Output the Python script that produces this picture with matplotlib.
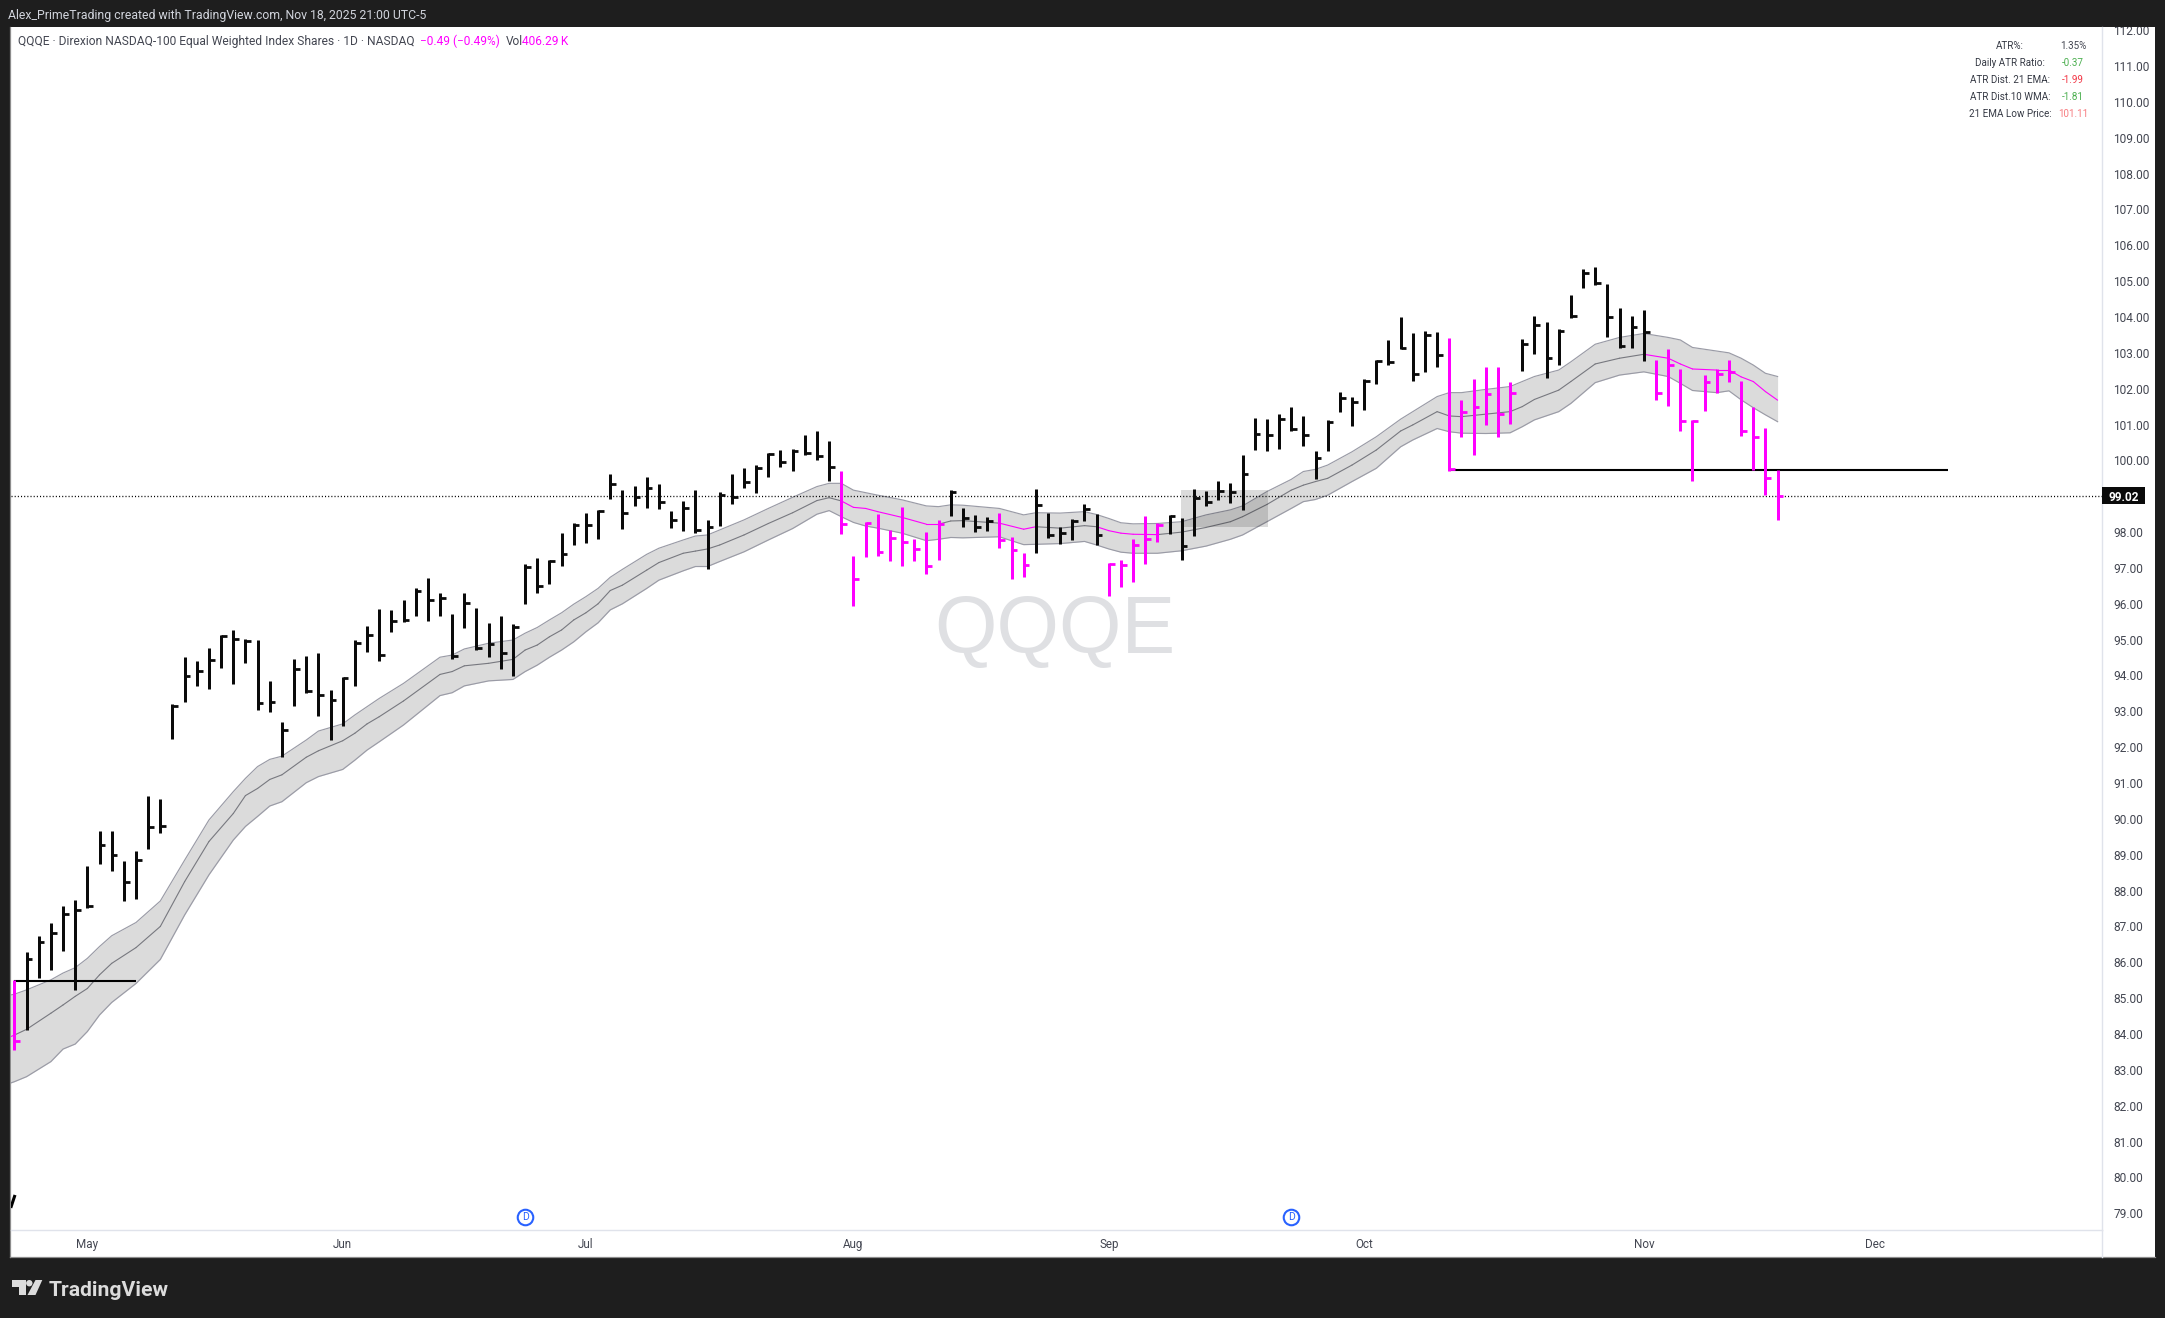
import matplotlib
matplotlib.use("Agg")
import matplotlib.pyplot as plt
from matplotlib.collections import LineCollection
from matplotlib.patches import Rectangle, Polygon, Circle
from matplotlib.transforms import Affine2D, blended_transform_factory

W, H = 2165, 1318

highs = [85.51,86.29,86.73,87.10,87.57,87.74,88.69,89.67,89.67,88.83,
         89.11,90.64,90.55,93.20,94.52,94.41,94.77,95.13,95.27,95.02,
         94.99,93.85,92.70,94.46,94.54,94.63,93.60,93.96,94.99,95.38,
         95.86,95.83,96.11,96.44,96.72,96.30,95.71,96.30,95.88,95.46,
         95.66,95.44,97.11,97.28,97.22,97.98,98.25,98.53,98.62,99.62,
         99.17,99.29,99.54,99.34,98.59,98.87,99.17,98.34,99.12,99.62,
         99.79,99.87,100.21,100.29,100.32,100.71,100.82,100.54,99.70,97.33,
         98.28,98.50,98.06,98.70,97.81,98.00,98.34,99.17,98.67,98.48,
         98.42,98.53,97.86,97.42,99.20,98.53,98.14,98.37,98.78,98.50,
         97.14,97.22,97.81,98.45,98.25,98.48,98.39,99.20,99.15,99.42,
         99.37,100.15,101.18,101.15,101.30,101.49,101.24,100.26,101.13,101.91,
         101.77,102.27,102.80,103.36,104.00,103.55,103.61,103.58,103.41,101.69,
         102.27,102.60,102.60,102.19,103.39,104.03,103.86,103.66,104.61,105.34,
         105.39,104.92,104.25,104.03,104.20,102.80,103.11,102.55,101.13,102.38,
         102.55,102.80,102.22,101.49,100.90,99.73]
lows = [83.55,84.11,85.56,85.79,86.31,85.23,87.51,88.74,88.55,87.71,
        87.77,89.16,89.60,92.23,93.26,93.71,93.62,94.21,93.76,94.35,
        93.04,92.98,91.73,93.15,93.51,92.87,92.20,92.59,93.71,94.66,
        94.40,95.21,95.49,95.66,95.52,95.66,94.46,95.32,94.71,94.52,
        94.18,93.99,95.99,96.30,96.55,97.05,97.64,97.70,97.81,98.92,
        98.09,98.73,98.67,98.64,98.11,98.03,97.97,96.97,98.17,98.78,
        99.23,99.09,99.54,99.82,99.70,100.15,100.01,99.43,97.95,95.94,
        97.31,97.33,97.19,97.05,97.19,96.83,97.22,98.45,98.14,98.00,
        98.03,97.56,96.69,96.75,97.42,97.84,97.67,97.78,98.31,97.64,
        96.22,96.47,96.61,97.11,97.72,97.95,97.22,97.89,98.73,98.90,
        98.81,98.62,100.29,100.26,100.32,100.82,100.40,99.48,100.26,101.35,
        100.96,101.41,102.13,102.66,103.11,102.22,102.47,102.60,99.71,100.65,
        100.15,100.99,100.65,101.02,102.49,102.97,102.30,102.66,103.97,104.81,
        104.89,103.44,103.14,103.14,102.77,101.69,101.52,100.82,99.43,101.38,
        101.88,102.19,100.68,99.73,99.03,98.34]
closes = [83.80,86.09,86.57,86.82,87.34,87.45,87.58,89.26,89.00,88.23,
          88.84,89.77,89.79,93.15,94.00,94.12,94.42,95.10,95.03,94.95,
          93.22,93.26,92.48,94.17,93.58,93.45,93.32,93.92,94.92,95.13,
          94.57,95.52,95.55,96.36,96.11,96.16,94.54,96.02,94.77,94.88,
          94.63,95.35,97.03,96.50,97.19,97.38,98.20,98.20,98.59,99.34,
          98.52,98.98,99.23,98.84,98.34,98.67,98.06,98.14,99.03,98.98,
          99.40,99.79,100.18,99.96,100.26,100.21,100.12,99.81,98.22,96.68,
          98.25,97.45,97.84,97.72,97.53,97.05,98.23,99.12,98.39,98.14,
          98.31,97.78,97.50,97.08,98.76,97.91,97.98,98.31,98.64,97.91,
          97.11,97.08,97.64,97.81,98.20,98.45,97.61,98.95,98.84,99.15,
          99.12,99.62,100.74,100.71,101.16,100.88,100.71,100.07,101.07,101.74,
          101.63,102.21,102.77,102.75,103.14,102.41,103.50,102.94,99.76,101.35,
          101.49,101.85,101.30,101.88,103.25,103.78,102.86,103.61,104.03,105.23,
          104.95,104.00,103.19,103.72,103.58,101.88,102.66,101.10,101.10,102.19,
          102.41,102.47,100.82,100.65,99.51,99.02]
magenta_runs = [(0, 0), (68, 76), (81, 83), (90, 94), (118, 123), (135, 145)]

band_idx = [-1,0,1,3,4,5,6,7,8,10,12,14,16,18,19,20,21,22,24,25,27,28,29,30,32,35,36,37,39,41,
            42,43,44,45,46,47,48,49,50,52,53,55,56,57,58,60,62,64,66,67,68,69,70,71,73,75,76,77,
            78,81,83,84,86,88,89,90,91,92,94,96,98,100,101,103,105,106,107,
            108,110,112,114,115,117,118,119,121,123,124,125,127,128,130,132,134,136,137,138,140,141,142,143,144,145]
band_up = [85.04,85.11,85.23,85.51,85.70,85.85,86.11,86.44,86.74,87.11,87.71,88.85,89.97,90.76,91.13,91.46,91.66,91.75,92.20,92.45,92.65,92.90,93.13,93.36,93.78,94.51,94.57,94.74,94.90,94.99,
           95.18,95.34,95.55,95.75,95.99,96.20,96.43,96.74,96.96,97.38,97.55,97.78,97.89,97.92,98.06,98.34,98.66,98.97,99.27,99.36,99.36,99.17,99.10,99.03,98.90,98.73,98.71,98.76,
           98.75,98.66,98.48,98.54,98.53,98.57,98.49,98.38,98.26,98.23,98.24,98.29,98.48,98.62,98.73,99.13,99.47,99.69,99.75,
           99.87,100.24,100.66,101.15,101.36,101.78,101.89,101.89,101.98,102.06,102.20,102.34,102.52,102.75,103.24,103.43,103.54,103.43,103.36,103.15,103.05,103.00,102.85,102.66,102.43,102.34]
band_mid = [83.83,83.97,84.13,84.58,84.81,85.05,85.27,85.65,85.97,86.41,87.00,88.25,89.37,90.15,90.65,90.85,91.10,91.23,91.72,91.90,92.18,92.39,92.65,92.85,93.29,94.03,94.11,94.27,94.34,94.45,
            94.71,94.85,95.08,95.27,95.55,95.75,96.00,96.37,96.52,96.94,97.15,97.41,97.47,97.53,97.64,97.92,98.24,98.54,98.88,98.96,98.87,98.69,98.66,98.57,98.41,98.22,98.22,98.31,
            98.32,98.25,98.08,98.15,98.11,98.18,98.15,98.04,97.97,97.94,97.93,98.00,98.13,98.29,98.43,98.77,99.17,99.31,99.41,
            99.50,99.87,100.29,100.82,100.99,101.36,101.24,101.22,101.29,101.36,101.50,101.70,101.96,102.20,102.69,102.85,102.96,102.85,102.69,102.55,102.52,102.52,102.33,102.20,101.92,101.68]
band_lo = [82.55,82.67,82.81,83.23,83.58,83.72,84.07,84.53,84.88,85.41,86.08,87.32,88.44,89.41,89.79,90.07,90.36,90.48,91.01,91.18,91.38,91.64,91.92,92.15,92.62,93.44,93.52,93.71,93.85,93.89,
           94.11,94.29,94.51,94.71,94.94,95.22,95.47,95.83,96.00,96.43,96.66,96.92,97.04,97.04,97.18,97.45,97.78,98.10,98.50,98.60,98.43,98.27,98.17,98.11,97.97,97.76,97.80,97.85,
           97.84,97.87,97.65,97.66,97.68,97.74,97.64,97.53,97.44,97.41,97.41,97.48,97.61,97.80,97.92,98.29,98.66,98.85,98.91,
           99.03,99.41,99.78,100.38,100.57,100.89,100.80,100.76,100.75,100.77,100.94,101.13,101.36,101.59,102.17,102.38,102.47,102.34,102.15,101.95,101.89,101.94,101.69,101.47,101.27,101.08]
mid_magenta_spans = [(-1, 0), (68, 76), (81, 84), (89, 94), (134, 145)]

# the 99.00 label sits behind the last-price tag in the reference
price_ticks = [p for p in range(79, 113) if p != 99]
month_pos = [6, 27, 47, 69, 90, 111, 134, 153]
month_labels = ["May", "Jun", "Jul", "Aug", "Sep", "Oct", "Nov", "Dec"]
dividend_pos = [42, 105]
last_price = 99.02
level_lines = [(0, 10, 85.49), (118, 159, 99.73)]
box_x = (95.95, 103.1)
box_y = (98.14, 99.17)
stub_x = [0.05, -0.3]
stub_y = [79.51, 79.15]

table_labels = ["ATR%:", "Daily ATR Ratio:", "ATR Dist. 21 EMA:", "ATR Dist.10 WMA:", "21 EMA Low Price:"]
table_values = ["1.35%", "-0.37", "-1.99", "-1.81", "101.11"]
table_colors = ["#434651", "#4caf50", "#f23645", "#4caf50", "#f77c80"]

BG = "#1e1e1e"
MAG = "#ff00ff"
FONT = "Roboto"
plt.rcParams["font.family"] = [FONT, "DejaVu Sans"]

fig = plt.figure(figsize=(W / 100, H / 100), dpi=100, facecolor=BG)
px = Affine2D().scale(1 / W, -1 / H).translate(0, 1) + fig.transFigure

def frame(x0, y0, x1, y1):
    return [x0 / W, 1 - y1 / H, (x1 - x0) / W, (y1 - y0) / H]

panel = fig.add_axes(frame(9.5, 27, 2155, 1257), facecolor="white", zorder=0)
panel.set_xticks([]); panel.set_yticks([])
for s in panel.spines.values():
    s.set_edgecolor("#8c8c8c"); s.set_linewidth(0.9)
panel.spines["top"].set_visible(False)
panel.spines["right"].set_visible(False)

ax = fig.add_axes(frame(10.5, 27, 2102, 1230), facecolor="none", zorder=1)
ax.set_xlim((10.5 - 14.4) / 12.16, (2102 - 14.4) / 12.16)
ax.set_ylim(112 - (1230 - 30.2) / 35.85, 112 - (27 - 30.2) / 35.85)
for k in ("top", "left"):
    ax.spines[k].set_visible(False)
for k in ("right", "bottom"):
    ax.spines[k].set_edgecolor("#e0e3eb"); ax.spines[k].set_linewidth(1.0)

ax.yaxis.tick_right()
ax.set_yticks(price_ticks)
ax.set_yticklabels([f"{p:.2f}" for p in price_ticks], fontsize=8.6, color="#434651")
ax.tick_params(axis="y", length=0, pad=8)
ax.set_xticks(month_pos)
ax.set_xticklabels(month_labels, fontsize=8.4, color="#434651")
ax.tick_params(axis="x", length=0, pad=5.8)
for lab in ax.get_yticklabels():
    lab.set_clip_on(True); lab.set_clip_box(panel.bbox)

# right divider down to the frame bottom
fig.add_artist(plt.Line2D([2102, 2102], [1230, 1257], transform=px, color="#e0e3eb", lw=1.0, zorder=2))

# EMA band
ax.fill_between(band_idx, band_lo, band_up, color="#dbdbdb", lw=0, zorder=1)
ax.plot(band_idx, band_up, color="#9a9ba6", lw=0.85, zorder=2)
ax.plot(band_idx, band_lo, color="#9a9ba6", lw=0.85, zorder=2)
segs, seg_cols = [], []
for j in range(len(band_idx) - 1):
    a, b = band_idx[j], band_idx[j + 1]
    segs.append([(a, band_mid[j]), (b, band_mid[j + 1])])
    mag = any(s <= a and b <= e for s, e in mid_magenta_spans)
    seg_cols.append(MAG if mag else "#77787f")
ax.add_collection(LineCollection(segs, colors=seg_cols, linewidths=0.8, zorder=2.5, capstyle="round"))

# drawings
ax.add_patch(Rectangle((box_x[0], box_y[0]), box_x[1] - box_x[0], box_y[1] - box_y[0],
                       facecolor="#000000", alpha=0.14, lw=0, zorder=3))
for a, b, y in level_lines:
    ax.plot([a, b], [y, y], color="black", lw=1.5, zorder=4, solid_capstyle="butt")
ax.plot(stub_x, stub_y, color="black", lw=2.2, zorder=4, solid_capstyle="butt")
ax.axhline(last_price, color="black", lw=0.95, ls=(0, (0.8, 1.6)), zorder=4)

# watermark
ax.text(1055, 632, "QQQE", transform=px, ha="center", va="center", fontsize=58,
        family="Liberation Sans", color="#dfe0e3", zorder=0.5)

# OHLC-style bars
idx = list(range(len(highs)))
mag_set = {i for a, b in magenta_runs for i in range(a, b + 1)}
cols = [MAG if i in mag_set else "#0a0a0a" for i in idx]
ax.vlines(idx, lows, highs, colors=cols, lw=2.16, zorder=5, capstyle="butt")
ax.hlines(closes, idx, [i + 0.47 for i in idx], colors=cols, lw=2.0, zorder=5, capstyle="butt")

# dividends
ax.scatter(dividend_pos, [78.9] * len(dividend_pos), s=125, facecolor="white", edgecolor="#2962ff",
           lw=1.5, zorder=6, clip_on=False)
for d in dividend_pos:
    ax.text(d, 78.89, "D", color="#2962ff", ha="center", va="center", fontsize=7.5, zorder=7)

# last price tag
btr = blended_transform_factory(px, ax.transData)
fig.add_artist(Rectangle((2102, last_price - 0.235), 43, 0.47, transform=btr, facecolor="#0a0a0a", lw=0, zorder=6))
fig.text(2123.5, last_price, f"{last_price:.2f}", transform=btr, color="white", fontsize=8.6,
         fontweight="bold", ha="center", va="center_baseline", zorder=7)

# header / legend
fig.text(8, 15.5, "Alex_PrimeTrading created with TradingView.com, Nov 18, 2025 21:00 UTC-5", transform=px,
         color="#d1d4dc", fontsize=8.8, va="center", ha="left")
fig.text(18, 41.5, "QQQE · Direxion NASDAQ-100 Equal Weighted Index Shares · 1D · NASDAQ", transform=px,
         color="#434651", fontsize=8.68, va="center", ha="left", zorder=4)
fig.text(420, 41.5, "\u22120.49 (\u22120.49%)", transform=px, color=MAG, fontsize=8.6, va="center", ha="left", zorder=4)
fig.text(506, 41.5, "Vol", transform=px, color="#434651", fontsize=8.6, va="center", ha="left", zorder=4)
fig.text(522, 41.5, "406.29\u2009K", transform=px, color=MAG, fontsize=8.6, va="center", ha="left", zorder=4)

# stats table
for k, (a, b, c) in enumerate(zip(table_labels, table_values, table_colors)):
    y = 45.7 + 17 * k
    fig.text(2010, y, a, transform=px, color="#363a45", fontsize=7.1, ha="center", va="center", zorder=4)
    fig.text(2073, y, b, transform=px, color=c, fontsize=7.1, ha="center", va="center", zorder=4)

# logo
LOGO = "#dcdcdc"
fig.add_artist(Polygon([(12.3, 1280), (25.5, 1280), (25.5, 1295), (18.5, 1295), (18.5, 1286.5), (12.3, 1286.5)],
                       closed=True, transform=px, facecolor=LOGO, lw=0, zorder=4))
fig.add_artist(Circle((29.3, 1283.2), 3.2, transform=px, facecolor=LOGO, lw=0, zorder=4))
fig.add_artist(Polygon([(35.5, 1280), (42.3, 1280), (35.5, 1295), (27.5, 1295)],
                       closed=True, transform=px, facecolor=LOGO, lw=0, zorder=4))
fig.text(49, 1290, "TradingView", transform=px, color=LOGO, fontsize=15.2, fontweight="bold",
         family="Roboto", va="center", ha="left", zorder=4)

fig.savefig("out.png", dpi=100, facecolor=BG)
